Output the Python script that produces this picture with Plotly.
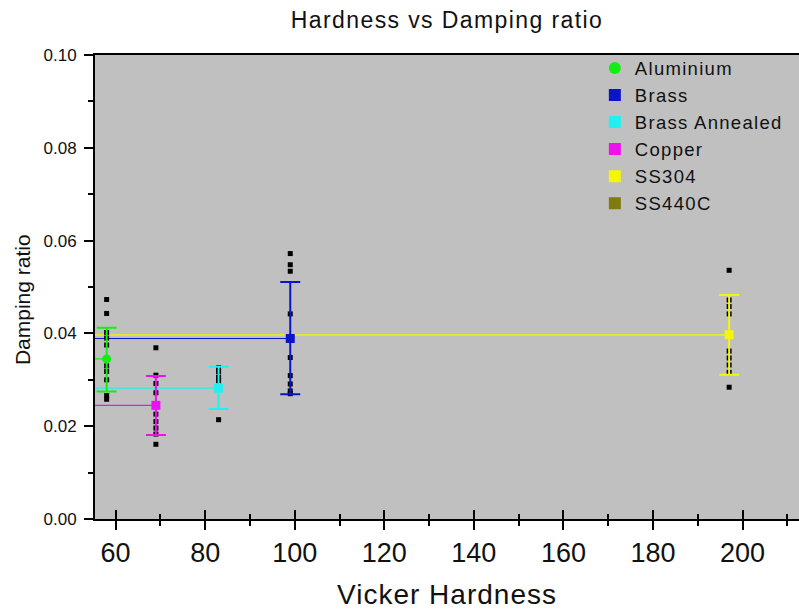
import plotly.graph_objects as go

# Mean damping ratio with standard deviation for each material
materials = ["Aluminium", "Brass", "Brass Annealed", "Copper", "SS304", "SS440C"]
hardness = [58, 99, 83, 69, 197, None]
damping_mean = [0.0345, 0.0389, 0.0282, 0.0245, 0.0397, None]
damping_err_plus = [0.0067, 0.0122, 0.0046, 0.0063, 0.0086, None]
damping_err_minus = [0.0070, 0.0120, 0.0045, 0.0064, 0.0086, None]
colors = ["#11ee11", "#0a14c8", "#22f0f0", "#ee11ee", "#f5f50a", "#807a10"]
symbols = ["circle", "square", "square", "square", "square", "square"]

# Individual measurements for each material
raw_aluminium = [0.0473, 0.0443, 0.0402, 0.0390, 0.0375, 0.0330, 0.0318, 0.0300, 0.0266, 0.0258]
raw_brass = [0.0572, 0.0548, 0.0534, 0.0442, 0.0388, 0.0348, 0.0309, 0.0291, 0.0276, 0.0270]
raw_brass_annealed = [0.0326, 0.0318, 0.0306, 0.0298, 0.0214]
raw_copper = [0.0369, 0.0310, 0.0292, 0.0272, 0.0226, 0.0210, 0.0196, 0.0183, 0.0161]
raw_ss304 = [0.0536, 0.0472, 0.0458, 0.0442, 0.0362, 0.0347, 0.0332, 0.0316, 0.0284]
raw_data = [raw_aluminium, raw_brass, raw_brass_annealed, raw_copper, raw_ss304, []]

x_range = [55.4, 212.6]
y_range = [0.0, 0.10]


def spaced(text, px):
    return "<span style='letter-spacing:%spx'>%s</span>" % (px, text)


fig = go.Figure()

# Horizontal guide from the left axis to each mean value
for i, name in enumerate(materials):
    if hardness[i] is None:
        continue
    fig.add_trace(go.Scatter(
        x=[x_range[0], hardness[i]], y=[damping_mean[i], damping_mean[i]],
        mode="lines", line=dict(color=colors[i], width=1.2),
        showlegend=False, hoverinfo="skip"))

# Raw measurement points
for i, name in enumerate(materials):
    if not raw_data[i]:
        continue
    fig.add_trace(go.Scatter(
        x=[hardness[i]] * len(raw_data[i]), y=raw_data[i],
        mode="markers", marker=dict(color="black", symbol="square", size=5),
        showlegend=False, hoverinfo="skip"))

# Mean with error bars
for i, name in enumerate(materials):
    fig.add_trace(go.Scatter(
        x=[hardness[i]], y=[damping_mean[i]],
        name=spaced(name, 1.3),
        mode="markers", showlegend=True,
        marker=dict(color=colors[i], symbol=symbols[i], size=9),
        error_y=dict(type="data", symmetric=False,
                     array=[damping_err_plus[i]],
                     arrayminus=[damping_err_minus[i]],
                     color=colors[i], thickness=2, width=10)))

# Companion axis carrying the inner half of the x tick marks
fig.add_trace(go.Scatter(x=x_range, y=[None, None], xaxis="x2", mode="lines",
                         showlegend=False, hoverinfo="skip"))

font_family = "Liberation Sans, Arial, sans-serif"

fig.update_layout(
    width=799, height=610,
    margin=dict(l=95, r=0, t=55, b=91),
    paper_bgcolor="white",
    plot_bgcolor="#c0c0c0",
    font=dict(family=font_family, color="#111111"),
    title=dict(text=spaced("Hardness vs Damping ratio", 1.4), x=0.5, xref="paper", xanchor="center",
               y=0.968, yanchor="middle", font=dict(size=23)),
    showlegend=True,
    legend=dict(x=0.71, y=1.012, xanchor="left", yanchor="top",
                bgcolor="rgba(0,0,0,0)", font=dict(size=18.5),
                tracegroupgap=0, itemsizing="constant"),
    xaxis=dict(range=x_range, tickmode="linear", tick0=60, dtick=20,
               showgrid=False, zeroline=False,
               showline=True, linecolor="black", linewidth=2, mirror=True,
               ticks="outside", ticklen=9, tickwidth=2, tickcolor="black",
               tickfont=dict(size=27),
               minor=dict(dtick=10, tick0=60, ticks="outside", ticklen=5, tickwidth=1.5, tickcolor="black"),
               title=dict(text=spaced("Vicker Hardness", 1.0), font=dict(size=28), standoff=18)),
    xaxis2=dict(range=x_range, overlaying="x", side="bottom", anchor="y",
                tickmode="linear", tick0=60, dtick=20, showticklabels=False,
                showgrid=False, zeroline=False, showline=False,
                ticks="inside", ticklen=9, tickwidth=2, tickcolor="black",
                minor=dict(dtick=10, tick0=60, ticks="inside", ticklen=5, tickwidth=1.5, tickcolor="black")),
    yaxis=dict(range=y_range, tickmode="linear", tick0=0, dtick=0.02,
               tickformat=".2f",
               showgrid=False, zeroline=False,
               showline=True, linecolor="black", linewidth=2,
               ticks="outside", ticklen=9, tickwidth=2, tickcolor="black",
               ticklabelstandoff=4,
               tickfont=dict(size=17),
               minor=dict(dtick=0.01, ticks="outside", ticklen=5, tickwidth=1.5, tickcolor="black")),
    annotations=[dict(text="Damping ratio", textangle=-90, xref="paper", yref="paper",
                      x=-0.1037, y=0.474, xanchor="center", yanchor="middle",
                      showarrow=False, font=dict(size=21))],
)

fig.write_html("out.html")
